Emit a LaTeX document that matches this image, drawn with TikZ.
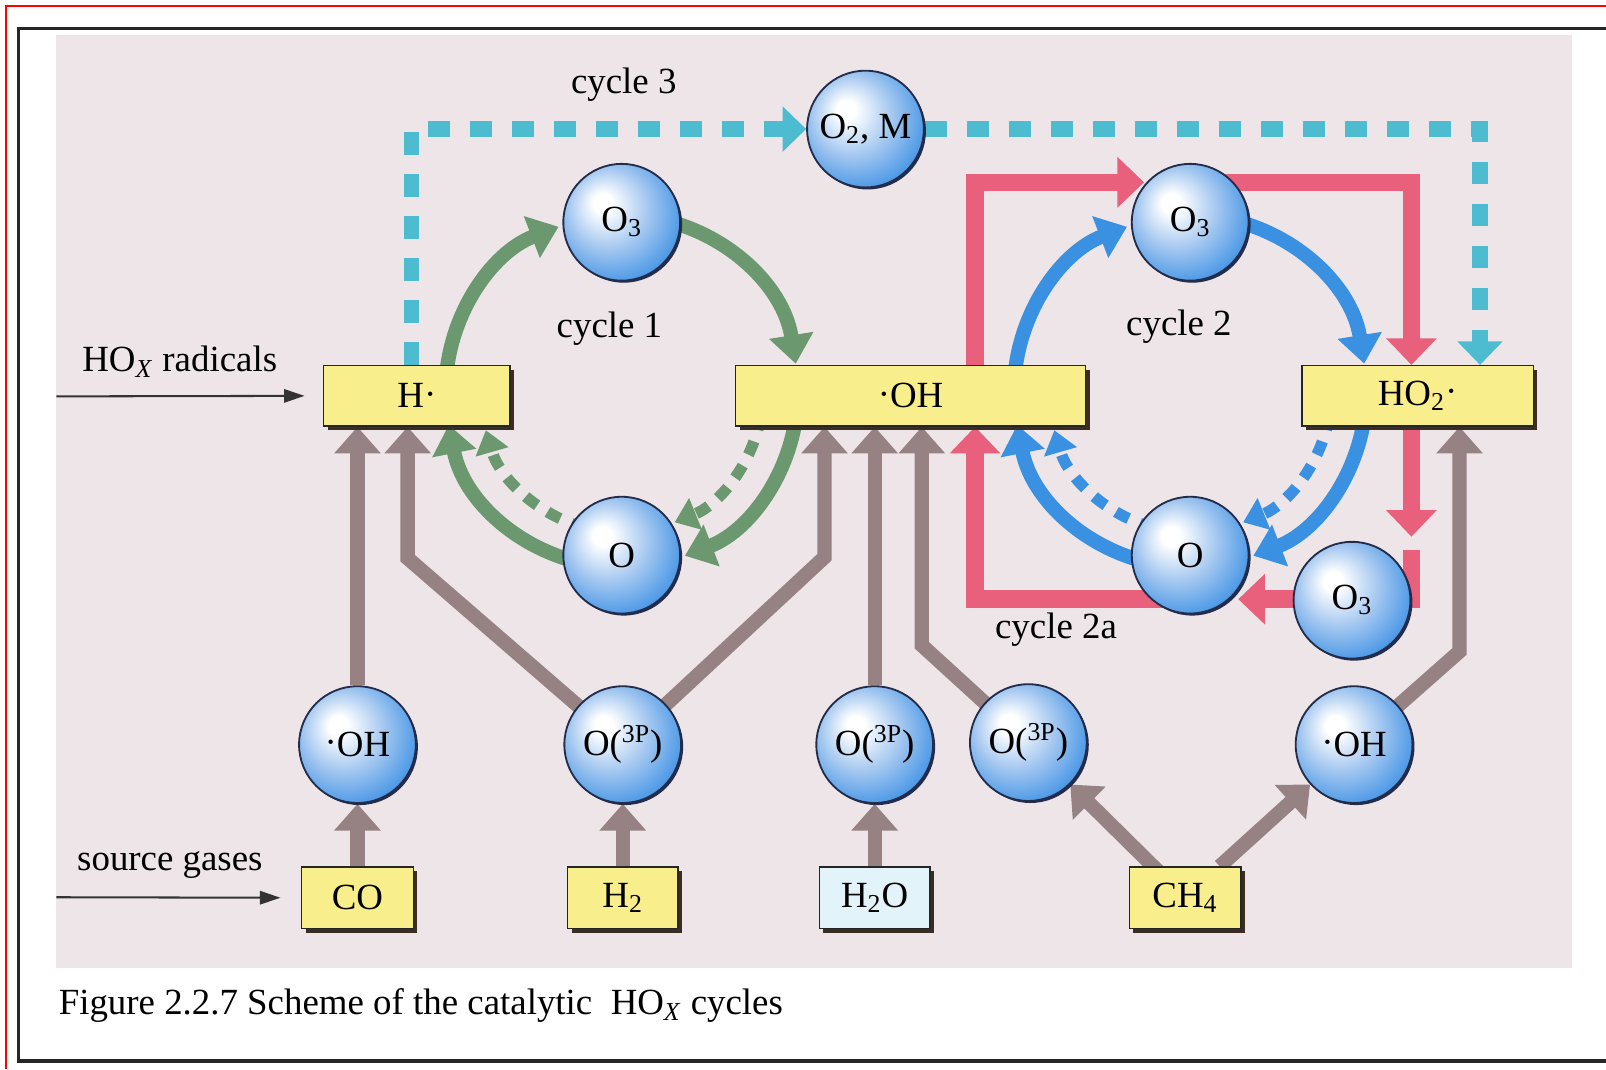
\documentclass[tikz,border=0pt]{standalone}
\usepackage{fontspec}
\setmainfont{Liberation Serif}
\usetikzlibrary{arrows.meta,shadows,calc}
\definecolor{panelc}{RGB}{237,229,232}
\definecolor{boxy}{RGB}{249,238,140}
\definecolor{waterc}{RGB}{226,244,249}
\definecolor{ballblue}{RGB}{52,140,228}
\definecolor{ballmid}{RGB}{165,200,240}
\definecolor{ballline}{RGB}{35,45,75}
\definecolor{greenc}{RGB}{108,152,112}
\definecolor{bluec}{RGB}{58,145,225}
\definecolor{pinkc}{RGB}{233,96,124}
\definecolor{cyanc}{RGB}{78,188,208}
\definecolor{greyc}{RGB}{150,130,130}
\definecolor{shadowc}{RGB}{60,45,35}
\pgfdeclareradialshading{bball}{\pgfpoint{-9bp}{9bp}}{color(0bp)=(white); color(4bp)=(white); color(17bp)=(ballmid); color(33bp)=(ballblue); color(50bp)=(ballblue)}
\pgfdeclarelayer{back}
\pgfdeclarelayer{lines}
\pgfsetlayers{back,lines,main}
\newcommand{\rdot}{\raisebox{0.05em}{\textperiodcentered}}
\begin{document}
\begin{tikzpicture}[x=0.5pt,y=-0.5pt,font=\fontsize{18}{21}\selectfont,
  box/.style={draw=black!85,line width=0.7pt,fill=boxy,minimum height=29.5pt,inner sep=0pt,
    drop shadow={shadow xshift=2pt,shadow yshift=-2pt,fill=shadowc,opacity=1}},
  ball/.style={circle,draw=ballline,line width=0.9pt,shade,shading=bball,minimum size=57pt,inner sep=0pt,
    drop shadow={shadow xshift=1pt,shadow yshift=-1pt,fill=ballline,opacity=1}},
  greyarr/.style={draw=greyc,line width=7pt,line join=miter,-{Triangle[length=13pt,width=22pt]}},
  pinkarr/.style={draw=pinkc,line width=8.5pt,line join=miter,-{Triangle[length=13pt,width=24pt]}},
  cyanarr/.style={draw=cyanc,line width=7.5pt,dash pattern=on 11pt off 9.5pt,-{Triangle[length=11.5pt,width=21.5pt]}},
  greenarr/.style={draw=greenc,line width=7pt,-{Triangle[length=14pt,width=21pt]}},
  greendash/.style={draw=greenc,line width=5.5pt,dash pattern=on 7pt off 6pt,-{Triangle[length=11pt,width=16pt]}},
  bluearr/.style={draw=bluec,line width=7pt,-{Triangle[length=14pt,width=21pt]}},
  bluedash/.style={draw=bluec,line width=5.5pt,dash pattern=on 7pt off 6pt,-{Triangle[length=11pt,width=16pt]}},
  thinarr/.style={draw=black!80,line width=1pt,-{Triangle[length=10pt,width=6.5pt]}},
  lbl/.style={inner sep=0pt}]
\useasboundingbox (0,0) rectangle (1568,1044);
\begin{pgfonlayer}{back}
\fill[panelc] (55,34) rectangle (1535,945);
\end{pgfonlayer}
\draw[red,line width=1.2pt] (6,1044) -- (6,6) -- (1568,6);
\draw[black!85,line width=1.6pt] (1568,28) -- (18,28) -- (18,1036) -- (1568,1036);
% balls
\node[ball] (O2M) at (845,126) {O\textsubscript{2}, M};
\node[ball] (O3a) at (607,217) {O\textsubscript{3}};
\node[ball] (Oa) at (607,542) {O};
\node[ball] (O3b) at (1162,217) {O\textsubscript{3}};
\node[ball] (Ob) at (1162,542) {O};
\node[ball] (O3c) at (1320,586) {O\textsubscript{3}};
\node[ball] (OH1) at (349,727) {\rdot OH};
\node[ball] (OP1) at (608,727) {O(\textsuperscript{3P})};
\node[ball] (OP2) at (854,727) {O(\textsuperscript{3P})};
\node[ball] (OP3) at (1004,725) {O(\textsuperscript{3P})};
\node[ball] (OH2) at (1322,727) {\rdot OH};
% boxes
\node[box,minimum width=91pt] (H) at (407,386.5) {H\rdot};
\node[box,minimum width=171pt] (OH) at (889,386.5) {\rdot OH};
\node[box,minimum width=113pt] (HO2) at (1384,386.5) {HO\textsubscript{2}\rdot};
\node[box,minimum width=54.5pt,minimum height=30pt] (CO) at (349,876.5) {CO};
\node[box,minimum width=54pt,minimum height=30pt] (H2) at (608,876.5) {H\textsubscript{2}};
\node[box,fill=waterc,minimum width=54pt,minimum height=30pt] (H2O) at (854,876.5) {H\textsubscript{2}O};
\node[box,minimum width=54.5pt,minimum height=30pt] (CH4) at (1157,876.5) {CH\textsubscript{4}};
% labels
\node[lbl] (t3) at (609,83) {cycle 3};
\node[lbl] (t1) at (595,321) {cycle 1};
\node[lbl] (t2) at (1151,319) {cycle 2};
\node[lbl] (t2a) at (1031,615) {cycle 2a};
\node[lbl,anchor=west] (thox) at (80,353) {HO\textsubscript{\textit{X}} radicals};
\node[lbl,anchor=west] (tsrc) at (75,845) {source gases};
\node[lbl,anchor=west] (cap) at (57,982) {Figure 2.2.7 Scheme of the catalytic \ HO\textsubscript{\textit{X}} cycles};
% coordinates
\coordinate (c1) at (607,382);
\coordinate (c2) at (1162,382);
\coordinate (hx) at (55,387);
\coordinate (sx) at (55,876);
\coordinate (k1) at (398,545);
\coordinate (k2) at (805,544);
\coordinate (k3) at (900,630);
\coordinate (k4) at (1425,636);
\coordinate (cL) at (402,126);
\coordinate (cR) at (1445,126);
\coordinate (pL) at (952,178);
\coordinate (pR) at (1378,178);
\coordinate (pLb) at (952,585);
\coordinate (pRb) at (1378,585);
\coordinate (pdn) at (1378,524);
\coordinate (pst) at (1378,537);
\begin{pgfonlayer}{lines}
% thin arrows
\draw[thinarr] (hx) -- ([xshift=-9pt]H.west);
\draw[thinarr] (sx) -- ([xshift=-10pt]CO.west);
% grey
\draw[greyarr] (CO.north) -- (OH1.south);
\draw[greyarr] (OH1.north) -- (OH1.north |- H.south);
\draw[greyarr] (H2.north) -- (OP1.south);
\draw[greyarr] (OP1.center) -- (k1) -- (k1 |- H.south);
\draw[greyarr] (OP1.center) -- (k2) -- (k2 |- OH.south);
\draw[greyarr] (H2O.north) -- (OP2.south);
\draw[greyarr] (OP2.north) -- (OP2.north |- OH.south);
\draw[greyarr] (OP3.center) -- (k3) -- (k3 |- OH.south);
\draw[greyarr] (CH4.center) -- (OP3.south east);
\draw[greyarr] (CH4) -- (OH2);
\draw[greyarr] (OH2.center) -- (k4) -- (k4 |- HO2.south);
% pink (cycle 2a)
\draw[pinkarr] (pL |- OH.north) -- (pL) -- ($(O3b.center)+(-45,-39)$);
\draw[pinkarr] (O3b.center |- pR) -- (pR) -- (pR |- HO2.north);
\draw[pinkarr] (pR |- HO2.south) -- (pdn);
\draw[pinkarr] (pst) -- (pRb) -- ($(Ob.center)+(47,43)$);
\draw[pinkarr] (Ob.center |- pLb) -- (pLb) -- (pLb |- OH.south);
% cyan (cycle 3)
\draw[cyanarr] (cL |- H.north) -- (cL) -- (O2M);
\draw[cyanarr] (O2M) -- (cR) -- (cR |- HO2.north);
% green (cycle 1)
\draw[greenarr] ([shift={(180:172)}]c1) arc[start angle=180,end angle=249,radius=172];
\draw[greenarr] ([shift={(270:172)}]c1) arc[start angle=270,end angle=351,radius=172];
\draw[greenarr] ([shift={(0:172)}]c1) arc[start angle=0,end angle=69,radius=172];
\draw[greenarr] ([shift={(90:172)}]c1) arc[start angle=90,end angle=169,radius=172];
\draw[greendash] ([shift={(105:138)}]c1) arc[start angle=105,end angle=164,radius=138];
\draw[greendash] ([shift={(10:138)}]c1) arc[start angle=10,end angle=68,radius=138];
% blue (cycle 2)
\draw[bluearr] ([shift={(180:172)}]c2) arc[start angle=180,end angle=249,radius=172];
\draw[bluearr] ([shift={(270:172)}]c2) arc[start angle=270,end angle=351,radius=172];
\draw[bluearr] ([shift={(0:172)}]c2) arc[start angle=0,end angle=69,radius=172];
\draw[bluearr] ([shift={(90:172)}]c2) arc[start angle=90,end angle=169,radius=172];
\draw[bluedash] ([shift={(105:138)}]c2) arc[start angle=105,end angle=164,radius=138];
\draw[bluedash] ([shift={(10:138)}]c2) arc[start angle=10,end angle=68,radius=138];
\end{pgfonlayer}
\end{tikzpicture}
\end{document}
